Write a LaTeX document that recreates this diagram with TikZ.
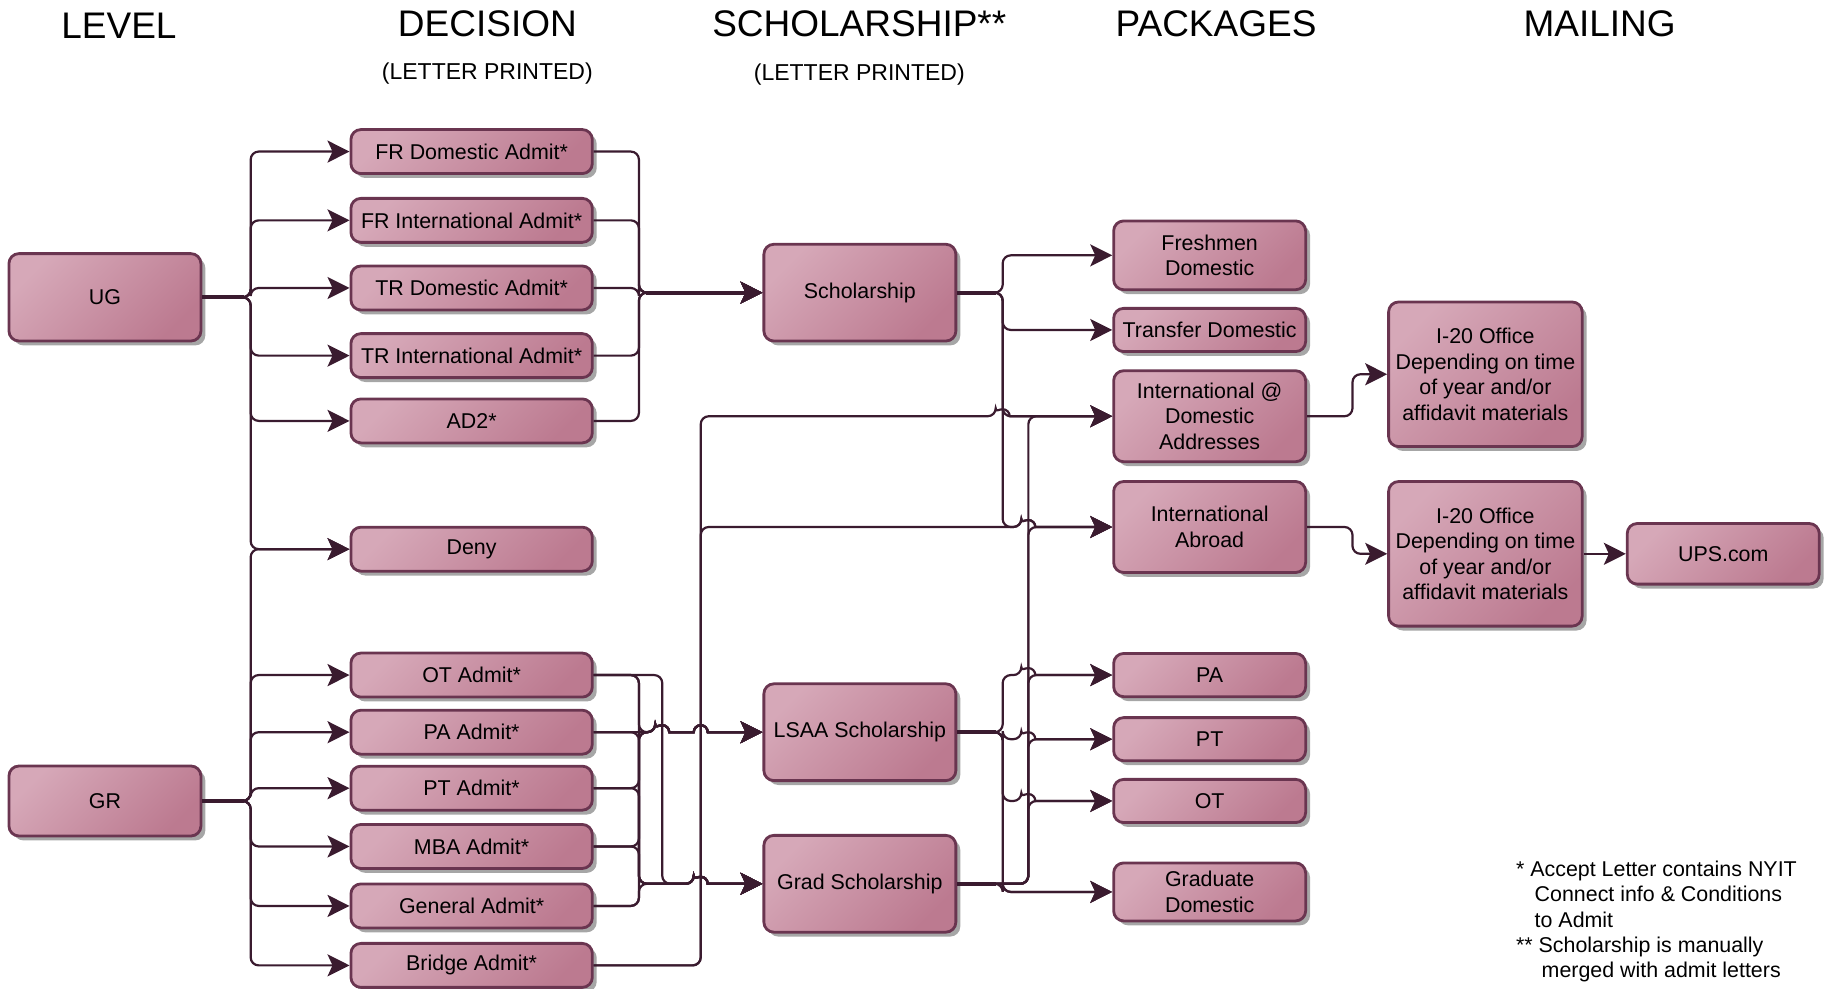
\documentclass[tikz,border=0pt]{standalone}
\usepackage{fontspec}
\setmainfont{Liberation Sans}
\usetikzlibrary{arrows.meta, shadows, calc}

\definecolor{boxlight}{HTML}{D6A8B8}
\definecolor{boxdark}{HTML}{BC7A90}
\definecolor{boxline}{HTML}{6A3550}
\definecolor{linkcol}{HTML}{3A1B2F}

\tikzset{
    box/.style={draw=boxline, line width=1.4pt, rounded corners=5pt,
        top color=boxlight, bottom color=boxdark, shading angle=45,
        drop shadow={shadow xshift=2.2pt, shadow yshift=-2.2pt, fill=black!35, opacity=1},
        font=\fontsize{10.7}{12.8}\selectfont, align=center, inner sep=1pt,
        minimum width=96pt},
    dbox/.style={box, minimum width=120.7pt, minimum height=22pt},
    head/.style={font=\fontsize{18.5}{20}\selectfont},
    subhead/.style={font=\fontsize{11.5}{13}\selectfont},
    link/.style={draw=linkcol, line width=1.1pt, rounded corners=4pt},
    stem/.style={draw=linkcol, line width=2pt},
    arr/.style={link, -{Stealth[length=11pt, width=11pt, inset=2.5pt]}},
}

\begin{document}
\begin{tikzpicture}[x=0.583pt, y=-0.583pt]
    \useasboundingbox (0,0) rectangle (1567,847.5);

    % headings
    \node[head] (hlevel) at (102,22) {LEVEL};
    \node[head] (hdec) at (418,20) {DECISION};
    \node[subhead] (sdec) at (418,63) {(LETTER PRINTED)};
    \node[head] (hsch) at (737,20) {SCHOLARSHIP**};
    \node[subhead] (ssch) at (737,64) {(LETTER PRINTED)};
    \node[head] (hpack) at (1043,20) {PACKAGES};
    \node[head] (hmail) at (1372,20) {MAILING};

    % level
    \node[box, minimum height=43.7pt] (ug) at (90,255) {UG};
    \node[box, minimum height=35pt] (gr) at (90,687) {GR};

    % decision
    \node[dbox] (frd) at (404.5,130) {FR Domestic Admit*};
    \node[dbox] (fri) at (404.5,189) {FR International Admit*};
    \node[dbox] (trd) at (404.5,247) {TR Domestic Admit*};
    \node[dbox] (tri) at (404.5,305) {TR International Admit*};
    \node[dbox] (ad2) at (404.5,361) {AD2*};
    \node[dbox] (deny) at (404.5,471) {Deny};
    \node[dbox] (ot) at (404.5,579) {OT Admit*};
    \node[dbox] (pa) at (404.5,628) {PA Admit*};
    \node[dbox] (pt) at (404.5,676) {PT Admit*};
    \node[dbox] (mba) at (404.5,726) {MBA Admit*};
    \node[dbox] (gen) at (404.5,777) {General Admit*};
    \node[dbox] (bridge) at (404.5,828) {Bridge Admit*};

    % scholarship
    \node[box, minimum height=48.4pt] (schol) at (737.5,251) {Scholarship};
    \node[box, minimum height=48.4pt] (lsaa) at (737.5,628) {LSAA Scholarship};
    \node[box, minimum height=48.4pt] (grads) at (737.5,758) {Grad Scholarship};

    % packages
    \node[box, minimum height=34.4pt] (fresh) at (1037.5,219) {Freshmen\\Domestic};
    \node[box, minimum height=21.6pt] (trans) at (1037.5,283) {Transfer Domestic};
    \node[box, minimum height=45.5pt] (idom) at (1037.5,357) {International @\\Domestic\\Addresses};
    \node[box, minimum height=45.5pt] (iabr) at (1037.5,452) {International\\Abroad};
    \node[box, minimum height=21.6pt] (ppa) at (1037.5,579) {PA};
    \node[box, minimum height=21.6pt] (ppt) at (1037.5,634) {PT};
    \node[box, minimum height=21.6pt] (pot) at (1037.5,687) {OT};
    \node[box, minimum height=29pt] (gdom) at (1037.5,765) {Graduate\\Domestic};

    % mailing
    \node[box, minimum width=96.8pt, minimum height=72.3pt] (ia) at (1274,321) {I-20 Office\\Depending on time\\of year and/or\\affidavit materials};
    \node[box, minimum width=96.8pt, minimum height=72.3pt] (ib) at (1274,475) {I-20 Office\\Depending on time\\of year and/or\\affidavit materials};
    \node[box, minimum height=30.3pt] (ups) at (1478,475) {UPS.com};

    % notes
    \node[anchor=north west, align=left, inner sep=0pt, font=\fontsize{10.7}{12.7}\selectfont] (notes) at (1300,738)
        {* Accept Letter contains NYIT\\\hspace*{9.3pt}Connect info \& Conditions\\\hspace*{9.3pt}to Admit\\
         ** Scholarship is manually\\\hspace*{12.8pt}merged with admit letters};

    % junctions
    \coordinate (ugj) at (215,255);
    \coordinate (grj) at (215,687);
    \coordinate (uout) at (548,251);
    \coordinate (ga) at (548,628);
    \coordinate (gb) at (568,628);
    \coordinate (bj) at (601,828);
    \coordinate (sj) at (860,251);
    \coordinate (lj) at (860,628);
    \coordinate (gj) at (882,757);
    \coordinate (mj) at (1160,400);

    % level -> decision
    \foreach \t in {frd,fri,trd,tri,ad2,deny}
        \draw[arr] (ug.east) -| (ugj |- \t.west) -- (\t.west);
    \foreach \t in {deny,ot,pa,pt,mba,gen,bridge}
        \draw[arr] (gr.east) -| (grj |- \t.west) -- (\t.west);
    \draw[stem] (ug.east) -- ($(ugj)+(-6,0)$);
    \draw[stem] (gr.east) -- ($(grj)+(-6,0)$);

    % decision -> scholarship
    \foreach \s in {frd,fri,trd,tri,ad2}
        \draw[arr] (\s.east) -| (uout) -- (schol.west);
    \draw[stem] ($(uout)+(6,0)$) -- ($(schol.west)+(-14,0)$);
    \foreach \s in {ot,pt,mba,gen}
        \draw[arr] (\s.east) -| (ga |- lsaa.west) -- ($(gb |- lsaa.west)+(-6,0)$) [sharp corners] arc[start angle=180, end angle=360, radius=6]
            -- ($(bj |- lsaa.west)+(-6,0)$) arc[start angle=180, end angle=360, radius=6] -- (lsaa.west);
    \draw[arr] (pa.east) -- ($(gb |- lsaa.west)+(-6,0)$) [sharp corners] arc[start angle=180, end angle=360, radius=6]
        -- ($(bj |- lsaa.west)+(-6,0)$) arc[start angle=180, end angle=360, radius=6] -- (lsaa.west);
    \foreach \s in {ot,pa,pt,mba,gen}
        \draw[arr] (\s.east) -| (ga |- grads.west) -- ($(bj |- grads.west)+(-6,0)$) [sharp corners] arc[start angle=180, end angle=360, radius=6] -- (grads.west);
    \draw[arr] (ot.east) -| (gb |- grads.west) -- ($(bj |- grads.west)+(-6,0)$) [sharp corners] arc[start angle=180, end angle=360, radius=6] -- (grads.west);

    % bridge -> international packages
    \draw[arr] (bridge.east) -| (bj |- idom.west) -- ($(sj |- idom.west)+(-6,0)$) [sharp corners] arc[start angle=180, end angle=360, radius=6] -- (idom.west);
    \draw[arr] (bridge.east) -| (bj |- iabr.west) -- ($(gj |- iabr.west)+(-6,0)$) [sharp corners] arc[start angle=180, end angle=360, radius=6] -- (iabr.west);

    % scholarship -> packages
    \foreach \t in {fresh,trans,idom}
        \draw[arr] (schol.east) -| (sj |- \t.west) -- (\t.west);
    \draw[arr] (schol.east) -| (sj |- iabr.west) -- ($(gj |- iabr.west)+(-6,0)$) [sharp corners] arc[start angle=180, end angle=360, radius=6] -- (iabr.west);
    \foreach \t in {ppa,ppt,pot}
        \draw[arr] (lsaa.east) -| (lj |- \t.west) -- ($(gj |- \t.west)+(-6,0)$) [sharp corners] arc[start angle=180, end angle=360, radius=6] -- (\t.west);
    \draw[arr] (lsaa.east) -| (lj |- gdom.west) -- (gdom.west);
    \draw[arr] (grads.east) -| (lj |- gdom.west) -- (gdom.west);
    \foreach \t in {idom,iabr,ppa,ppt,pot}
        \draw[arr] (grads.east) -| (gj |- \t.west) -- (\t.west);
    \draw[stem] (schol.east) -- ($(sj)+(-6,0)$);
    \draw[stem] (lsaa.east) -- ($(lj)+(-6,0)$);
    \draw[stem] (grads.east) -- ($(lj |- grads.east)+(-6,0)$);

    % packages -> mailing
    \draw[arr] (idom.east) -| (mj |- ia.west) -- (ia.west);
    \draw[arr] (iabr.east) -| (mj |- ib.west) -- (ib.west);
    \draw[arr] (ib.east) -- (ups.west);
\end{tikzpicture}
\end{document}
